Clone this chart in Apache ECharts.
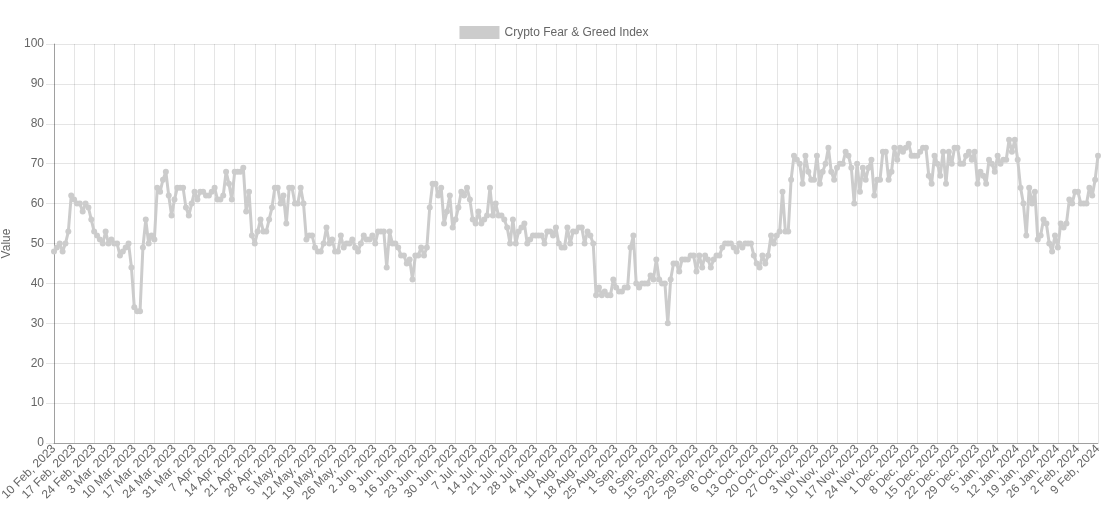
<!DOCTYPE html>
<html>
<head>
<meta charset="utf-8">
<script src="https://cdn.jsdelivr.net/npm/echarts@6/dist/echarts.min.js"></script>
<style>
html,body{margin:0;padding:0;background:#fff;}
#chart{width:1108px;height:531px;}
</style>
</head>
<body>
<div id="chart"></div>
<script>
// Series name and axis title
const seriesName = 'Crypto Fear & Greed Index';
const yAxisTitle = 'Value';

// Category range (daily) : 10 Feb 2023 .. 9 Feb 2024
const startDate = [2023, 1, 10]; // year, monthIndex, day
const dayCount = 365;
const monthNames = ['Jan','Feb','Mar','Apr','May','Jun','Jul','Aug','Sep','Oct','Nov','Dec'];

// Y tick settings
const yMin = 0, yMax = 100, yStep = 10;

// Daily values
const valuesFebApr = [
  48,49,50,48,50,53,62,61,60,60,
  58,60,59,56,53,52,51,50,53,50,
  51,50,50,47,48,49,50,44,34,33,
  33,49,56,50,52,51,64,63,66,68,
  62,57,61,64,64,64,59,57,60,63,
  61,63,63,62,62,63,64,61
];
const valuesAprJun = [
  61,62,68,65,61,68,68,68,69,58,
  63,52,50,53,56,53,53,56,59,64,
  64,60,62,55,64,64,60,60,64,60,
  51,52,52,49,48,48,50,54,50,51,
  48,48,52,49,50,50,51,49,48,50,
  52,51,51,52,50,53,53,53,44,53
];
const valuesJunAug = [
  50,50,49,47,47,45,46,41,47,47,
  49,47,49,59,65,65,62,64,55,58,
  62,54,56,59,63,62,64,61,56,55,
  58,55,56,57,64,57,60,57,57,56,
  54,50,56,50,53,54,55,50,51,52,
  52,52,52,50,53,53,52,54,50
];
const valuesAugOct = [
  49,49,54,50,53,53,54,54,50,53,
  52,50,37,39,37,38,37,37,41,39,
  38,38,39,39,49,52,40,39,40,40,
  40,42,41,46,41,40,40,30,41,45,
  45,43,46,46,46,47,47,43,47,44,
  47,46,44,46,47,47,49,50,50
];
const valuesOctNov = [
  50,49,48,50,49,50,50,50,47,45,
  44,47,45,47,52,50,52,53,63,53,
  53,66,72,71,70,65,72,68,66,66,
  72,65,68,70,74,68,66,69,70,70,
  73,72,69,60,70,63,69,66,69,71,
  62,66,66,73,73,66
];
const valuesNovFeb = [
  68,74,71,74,73,74,75,72,72,72,
  73,74,74,67,65,72,70,67,73,65,
  73,70,74,74,70,70,72,73,71,73,
  65,68,67,65,71,70,68,72,70,71,
  71,76,73,76,71,64,60,52,64,60,
  63,51,52,56,55,50,48,52,49,55,
  54,55,61,60,63,63,60,60,60,64,
  62,66,72
];

const values = [].concat(valuesFebApr, valuesAprJun, valuesJunAug, valuesAugOct, valuesOctNov, valuesNovFeb);

const categories = [];
for (let i = 0; i < dayCount; i++) {
  const d = new Date(startDate[0], startDate[1], startDate[2] + i);
  categories.push(d.getDate() + ' ' + monthNames[d.getMonth()] + ', ' + d.getFullYear());
}

const lineColor = '#cccccc';
const textColor = '#666';
const gridColor = 'rgba(0,0,0,0.1)';
const font = 'Liberation Sans, Arial, Helvetica, sans-serif';

const chart = echarts.init(document.getElementById('chart'), null, {renderer: 'canvas'});
chart.setOption({
  animation: false,
  backgroundColor: '#fff',
  textStyle: {fontFamily: font},
  legend: {
    top: 21,
    left: 'center',
    itemWidth: 40,
    itemHeight: 13,
    itemGap: 10,
    icon: 'rect',
    textStyle: {color: textColor, fontSize: 12, fontFamily: font},
    data: [{name: seriesName, icon: 'rect', itemStyle: {color: lineColor}}]
  },
  grid: {left: 54, right: 10, top: 44, bottom: 88, containLabel: false, outerBoundsMode: 'none'},
  xAxis: {
    type: 'category',
    boundaryGap: false,
    data: categories,
    axisLine: {show: true, lineStyle: {color: 'rgba(0,0,0,0.3)', width: 1}},
    axisTick: {show: false},
    axisLabel: {interval: 6, rotate: 45, color: textColor, fontSize: 12, fontFamily: font, margin: 4},
    splitLine: {show: true, interval: 6, lineStyle: {color: gridColor, width: 1}}
  },
  yAxis: {
    type: 'value',
    min: yMin, max: yMax, interval: yStep,
    name: yAxisTitle,
    nameLocation: 'middle',
    nameGap: 36,
    nameTextStyle: {color: textColor, fontSize: 12, fontFamily: font},
    axisLine: {show: true, lineStyle: {color: 'rgba(0,0,0,0.3)', width: 1}},
    axisTick: {show: true, length: 8, lineStyle: {color: gridColor}},
    axisLabel: {color: textColor, fontSize: 12, fontFamily: font, margin: 10},
    splitLine: {show: true, lineStyle: {color: gridColor, width: 1}}
  },
  series: [{
    name: seriesName,
    type: 'line',
    data: values,
    showAllSymbol: true,
    symbol: 'circle',
    symbolSize: 6,
    itemStyle: {color: lineColor},
    lineStyle: {color: lineColor, width: 3},
    emphasis: {disabled: true}
  }]
});
</script>
</body>
</html>
